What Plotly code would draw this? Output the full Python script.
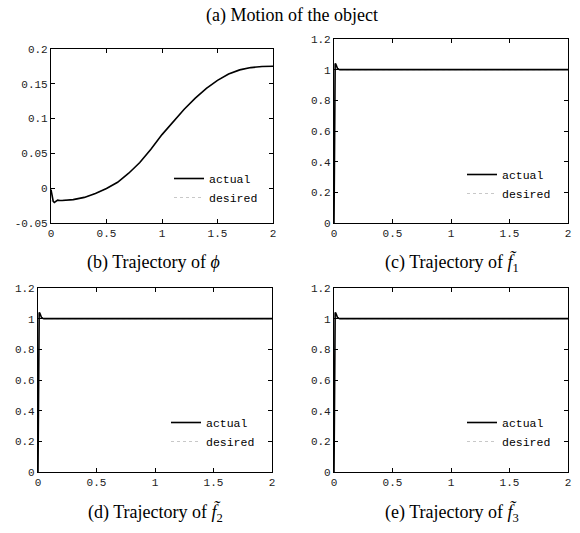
import plotly.graph_objects as go

# time axis and phi trajectory
t_phi = [0, 0.01, 0.02, 0.03, 0.04, 0.05, 0.06, 0.08, 0.1, 0.2, 0.3, 0.4, 0.5, 0.6, 0.7,
         0.8, 0.9, 1.0, 1.1, 1.2, 1.3, 1.4, 1.5, 1.6, 1.7, 1.8, 1.9, 2.0]
phi_actual = [-0.002, -0.012, -0.019, -0.0205, -0.019, -0.0175, -0.0172, -0.0176, -0.0177,
              -0.0164, -0.0132, -0.0075, -0.0005, 0.0085, 0.0215, 0.037, 0.056, 0.077,
              0.096, 0.1135, 0.1295, 0.1435, 0.155, 0.164, 0.17, 0.1733, 0.1748, 0.1752]
phi_desired = [-0.0183, -0.0182, -0.0182, -0.0181, -0.0181, -0.018, -0.018, -0.0179, -0.0177,
               -0.0164, -0.0132, -0.0075, -0.0005, 0.0085, 0.0215, 0.037, 0.056, 0.077,
               0.096, 0.1135, 0.1295, 0.1435, 0.155, 0.164, 0.17, 0.1733, 0.1748, 0.1752]

# f tilde trajectories
t_f = [0, 0.003, 0.006, 0.01, 0.015, 0.02, 0.03, 0.04, 0.05, 0.07, 0.1, 0.5, 1.0, 1.5, 2.0]
f1_actual = [0, 0.55, 0.98, 1.04, 1.037, 1.022, 1.008, 1.003, 1.0, 1.0, 1.0, 1.0, 1.0, 1.0, 1.0]
f2_actual = [0, 0.55, 0.98, 1.04, 1.037, 1.022, 1.008, 1.003, 1.0, 1.0, 1.0, 1.0, 1.0, 1.0, 1.0]
f3_actual = [0, 0.55, 0.98, 1.04, 1.037, 1.022, 1.008, 1.003, 1.0, 1.0, 1.0, 1.0, 1.0, 1.0, 1.0]
f_desired = [1.0, 1.0, 1.0, 1.0, 1.0, 1.0, 1.0, 1.0, 1.0, 1.0, 1.0, 1.0, 1.0, 1.0, 1.0]

x_ticks = [0, 0.5, 1, 1.5, 2]
x_labels = ["0", "0.5", "1", "1.5", "2"]
phi_ticks = [-0.05, 0, 0.05, 0.1, 0.15, 0.2]
phi_labels = ["-0.05", "0", "0.05", "0.1", "0.15", "0.2"]
f_ticks = [0, 0.2, 0.4, 0.6, 0.8, 1.0, 1.2]
f_labels = ["0", "0.2", "0.4", "0.6", "0.8", "1", "1.2"]

W, H = 580, 533
mono = "Liberation Mono"
serif = "Liberation Serif"

fig = go.Figure()

panels = [
    # (t, actual, desired, legend, xaxis, yaxis)
    (t_phi, phi_actual, phi_desired, "legend", "x", "y"),
    (t_f, f1_actual, f_desired, "legend2", "x2", "y2"),
    (t_f, f2_actual, f_desired, "legend3", "x3", "y3"),
    (t_f, f3_actual, f_desired, "legend4", "x4", "y4"),
]
for t, act, des, leg, xa, ya in panels:
    # desired drawn underneath, actual on top
    fig.add_trace(go.Scatter(x=t, y=des, mode="lines", name="desired", legend=leg,
                             xaxis=xa, yaxis=ya, legendrank=2,
                             line=dict(color="#c8c8c8", width=1.0, dash="dot")))
    fig.add_trace(go.Scatter(x=t, y=act, mode="lines", name="actual", legend=leg,
                             xaxis=xa, yaxis=ya, legendrank=1,
                             line=dict(color="black", width=1.6)))


def px_dom(a, b, total, flip=False):
    if flip:
        return [1 - b / total, 1 - a / total]
    return [a / total, b / total]


axis_common = dict(showline=True, linecolor="black", linewidth=1.2, mirror="ticks",
                   ticks="inside", ticklen=4, tickcolor="black", showgrid=False,
                   zeroline=False, automargin=False, ticklabeloverflow="allow",
                   tickfont=dict(family=mono, size=11, color="#222"))

boxes = {
    "": ((51, 273), (49, 223), phi_ticks, phi_labels, [-0.05, 0.2]),
    "2": ((334, 568), (39, 223), f_ticks, f_labels, [0, 1.2]),
    "3": ((38, 272), (288, 472), f_ticks, f_labels, [0, 1.2]),
    "4": ((334, 568), (288, 472), f_ticks, f_labels, [0, 1.2]),
}
layout_axes = {}
for k, ((x0, x1), (y0, y1), yt, yl, yr) in boxes.items():
    layout_axes["xaxis" + k] = dict(axis_common, domain=px_dom(x0, x1, W), range=[0, 2],
                                    tickvals=x_ticks, ticktext=x_labels, anchor="y" + k)
    layout_axes["yaxis" + k] = dict(axis_common, domain=px_dom(y0, y1, H, flip=True),
                                    range=yr, tickvals=yt, ticktext=yl, anchor="x" + k)

leg_common = dict(font=dict(family=mono, size=11.5, color="black"), bgcolor="rgba(0,0,0,0)",
                  itemwidth=30, xanchor="left", yanchor="top", tracegroupgap=0,
                  traceorder="normal")
legends = dict(
    legend=dict(leg_common, x=169 / W, y=1 - 164 / H),
    legend2=dict(leg_common, x=462 / W, y=1 - 160 / H),
    legend3=dict(leg_common, x=166 / W, y=1 - 408 / H),
    legend4=dict(leg_common, x=462 / W, y=1 - 408 / H),
)

captions = [
    ("(a) Motion of the object", 292, 15),
    ("(b) Trajectory of <i>ϕ</i>", 153, 263),
    ("(c) Trajectory of <i>f̃</i><sub>1</sub>", 452, 263),
    ("(d) Trajectory of <i>f̃</i><sub>2</sub>", 155, 513),
    ("(e) Trajectory of <i>f̃</i><sub>3</sub>", 452, 513),
]
annotations = [dict(text=txt, x=cx / W, y=1 - cy / H, xref="paper", yref="paper",
                    showarrow=False, xanchor="center", yanchor="middle",
                    font=dict(family=serif, size=18, color="black"))
               for txt, cx, cy in captions]

fig.update_layout(width=W, height=H, autosize=False, margin=dict(l=0, r=0, t=0, b=0),
                  paper_bgcolor="white", plot_bgcolor="white", showlegend=True,
                  annotations=annotations, **layout_axes, **legends)

# page body margin would otherwise shift the figure by 8px
fig.write_html("out.html", config={"displayModeBar": False},
               post_script="document.body.style.margin='0';")
